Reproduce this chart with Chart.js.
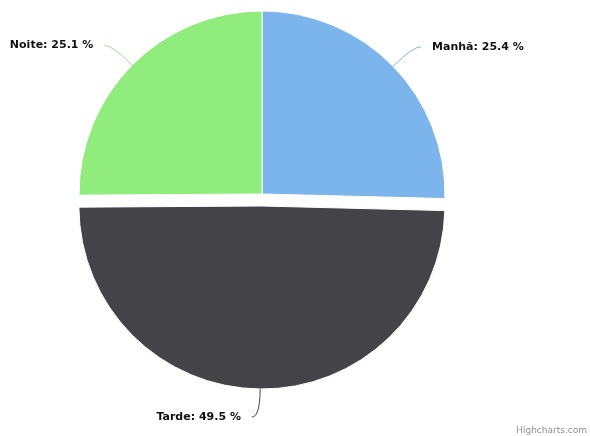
<!DOCTYPE html>
<html>
<head>
<meta charset="utf-8">
<script src="https://cdn.jsdelivr.net/npm/chart.js@4/dist/chart.umd.min.js"></script>
<style>
  html, body { margin: 0; padding: 0; background: #fff; }
  #wrap { width: 590px; height: 436px; position: relative; }
</style>
</head>
<body>
<div id="wrap"><canvas id="chart" width="590" height="436"></canvas></div>
<script>
  'use strict';

  // Chart data
  var categories = ['Manhã', 'Tarde', 'Noite'];
  var shares = [25.4, 49.5, 25.1];
  var sliced = [false, true, false];

  var colors = ['#7cb5ec', '#434348', '#90ed7d'];
  var sliceDistance = 12;

  function midAngle(arc) {
    return (arc.startAngle + arc.endAngle) / 2;
  }

  // Pie whose sliced points are pulled out without growing, Highcharts style
  class SlicedPieController extends Chart.PieController {
    draw() {
      var ctx = this.chart.ctx;
      var area = this.chart.chartArea;
      this._cachedMeta.data.forEach(function (arc, i) {
        ctx.save();
        if (sliced[i]) {
          var mid = midAngle(arc);
          ctx.translate(Math.cos(mid) * sliceDistance, Math.sin(mid) * sliceDistance);
        }
        arc.draw(ctx, area);
        ctx.restore();
      });
    }
  }
  SlicedPieController.id = 'slicedPie';
  Chart.register(SlicedPieController);

  // Outside labels with curved connectors
  var pieLabels = {
    id: 'pieLabels',
    afterDatasetsDraw: function (chart) {
      var ctx = chart.ctx;
      var meta = chart.getDatasetMeta(0);
      var distance = 28;

      meta.data.forEach(function (arc, i) {
        var mid = midAngle(arc);
        var shift = sliced[i] ? sliceDistance : 0;
        var cx = arc.x + Math.cos(mid) * shift;
        var cy = arc.y + Math.sin(mid) * shift;

        var ex = cx + Math.cos(mid) * arc.outerRadius;
        var ey = cy + Math.sin(mid) * arc.outerRadius;
        var bx = cx + Math.cos(mid) * (arc.outerRadius + distance);
        var by = cy + Math.sin(mid) * (arc.outerRadius + distance);
        var side = bx < arc.x ? -1 : 1;
        var endX = bx + side * 8;

        ctx.save();
        ctx.strokeStyle = colors[i];
        ctx.lineWidth = 1;
        ctx.beginPath();
        ctx.moveTo(ex, ey);
        ctx.quadraticCurveTo(bx, by, endX, by);
        ctx.stroke();

        ctx.fillStyle = '#111';
        ctx.font = 'bold 11px "DejaVu Sans", sans-serif';
        ctx.textBaseline = 'middle';
        ctx.textAlign = side < 0 ? 'right' : 'left';
        ctx.fillText(categories[i] + ': ' + shares[i].toFixed(1) + ' %', endX + side * 11, by);
        ctx.restore();
      });

      // credits
      ctx.save();
      ctx.fillStyle = '#909090';
      ctx.font = '9px "DejaVu Sans", sans-serif';
      ctx.textAlign = 'right';
      ctx.textBaseline = 'alphabetic';
      ctx.fillText('Highcharts.com', 587, 433);
      ctx.restore();
    }
  };

  var ctx = document.getElementById('chart').getContext('2d');
  new Chart(ctx, {
    type: 'slicedPie',
    data: {
      labels: categories,
      datasets: [{
        data: shares,
        backgroundColor: colors,
        borderColor: '#ffffff',
        borderWidth: 1
      }]
    },
    options: {
      responsive: false,
      animation: false,
      radius: 183,
      layout: {
        padding: { left: 10, right: 76, top: 10, bottom: 58 }
      },
      plugins: {
        legend: { display: false },
        tooltip: { enabled: false }
      }
    },
    plugins: [pieLabels]
  });
</script>
</body>
</html>
